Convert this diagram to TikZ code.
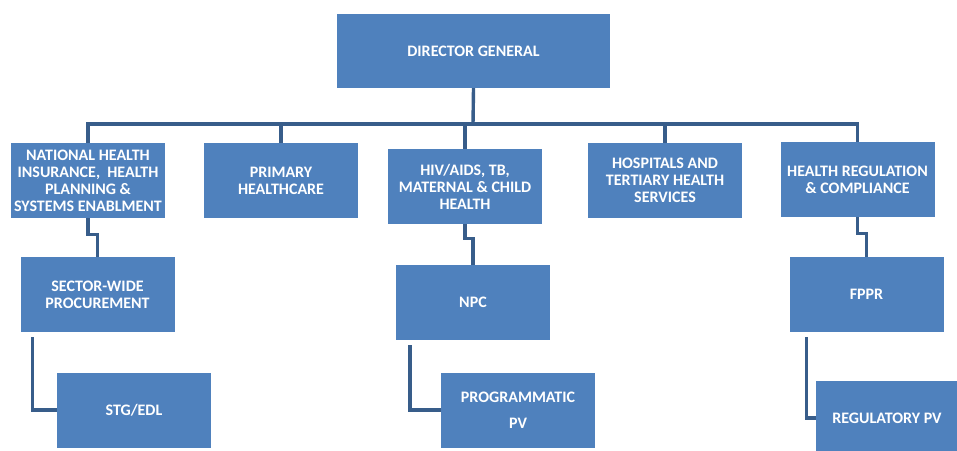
\documentclass[tikz,border=0pt]{standalone}
\usepackage{fontspec}
\setmainfont{Carlito}
\usepackage{tikz}
\usetikzlibrary{positioning}
\definecolor{C_box}{RGB}{79,129,189}
\definecolor{C_link}{RGB}{56,93,138}

\begin{document}
\begin{tikzpicture}[
    x=1pt, y=-1pt,
    font=\fontsize{16}{17}\selectfont\bfseries,
    unit/.style={fill=C_box, text=white, align=center, inner sep=0pt,
                 minimum width=154pt, minimum height=75pt},
    link/.style={draw=C_link, line width=3.4pt},
]
\useasboundingbox (0,0) rectangle (957,450);

% Top of the chart
\node[unit, minimum width=273pt, minimum height=74pt] (dg) at (473.5,51) {DIRECTOR GENERAL};
\coordinate (bus) at (473,124);

% First row of directorates
\node[unit] (nhi) at (88,180.5) {NATIONAL HEALTH\\INSURANCE,\ \ HEALTH\\PLANNING \&\\SYSTEMS ENABLMENT};
\node[unit] (phc) at (281,180.5) {PRIMARY\\HEALTHCARE};
\node[unit] (hiv) at (465,186.5) {HIV/AIDS, TB,\\MATERNAL \& CHILD\\HEALTH};
\node[unit] (hosp) at (665,180.5) {HOSPITALS AND\\TERTIARY HEALTH\\SERVICES};
\node[unit] (hrc) at (857.5,179.5) {HEALTH REGULATION\\\& COMPLIANCE};

% Second and third rows
\node[unit] (swp) at (97.5,294.5) {SECTOR-WIDE\\PROCUREMENT};
\node[unit] (stg) at (134,410) {STG/EDL};
\node[unit] (npc) at (473,302.5) {NPC};
\node[unit] (ppv) at (518,410) {PROGRAMMATIC\\[9pt]PV};
\node[unit] (fppr) at (866.5,294.5) {FPPR};
\node[unit, minimum width=142pt, minimum height=74pt] (rpv) at (887,418) {REGULATORY PV};

% Links from the director general
\draw[link] (dg.south) -- (bus);
\draw[link] (bus) -| (nhi.north);
\draw[link] (bus) -| (phc.north);
\draw[link] (bus) -| (hiv.north);
\draw[link] (bus) -| (hosp.north);
\draw[link] (bus) -| (hrc.north);

% Links down each branch
\draw[link] (nhi.south) -- ++(0,16) -| (swp.north);
\draw[link] (hiv.south) -- ++(0,14) -| (npc.north);
\draw[link] (hrc.south) -- ++(0,16) -| (fppr.north);
\draw[link] ([xshift=12pt,yshift=-5pt]swp.south west) |- (stg.west);
\draw[link] ([xshift=14pt,yshift=-5pt]npc.south west) |- (ppv.west);
\draw[link] ([xshift=17pt,yshift=-5pt]fppr.south west) |- (rpv.west);
\end{tikzpicture}
\end{document}
